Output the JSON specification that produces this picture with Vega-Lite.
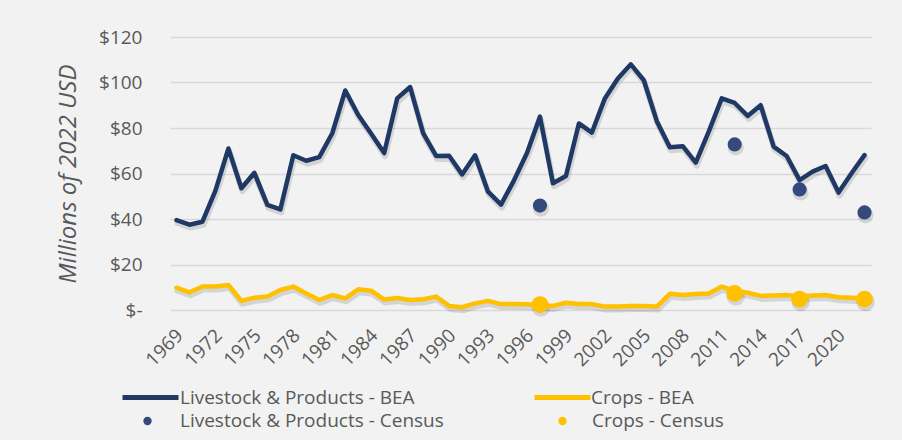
{
  "$schema": "https://vega.github.io/schema/vega-lite/v6.json",
  "autosize": "none",
  "width": 701,
  "height": 273,
  "padding": {"left": 170, "top": 37, "right": 31, "bottom": 130},
  "background": "#f2f2f2",
  "config": {
    "view": {"stroke": null},
    "font": "Open Sans",
    "axis": {"labelFont": "Open Sans", "labelColor": "#595959", "titleColor": "#595959"},
    "legend": {"labelFont": "Open Sans", "labelFontSize": 19, "labelColor": "#595959", "padding": 0, "title": null, "labelLimit": 500}
  },
  "datasets": {
    "bea": [
      {"year": 1969, "livestock": 39.5, "crops": 9.8},
      {"year": 1970, "livestock": 37.5, "crops": 7.8},
      {"year": 1971, "livestock": 38.8, "crops": 10.3},
      {"year": 1972, "livestock": 52.5, "crops": 10.3},
      {"year": 1973, "livestock": 71, "crops": 11},
      {"year": 1974, "livestock": 53.5, "crops": 4},
      {"year": 1975, "livestock": 60.3, "crops": 5.4},
      {"year": 1976, "livestock": 46.2, "crops": 5.9},
      {"year": 1977, "livestock": 44.2, "crops": 8.8},
      {"year": 1978, "livestock": 68, "crops": 10.3},
      {"year": 1979, "livestock": 65.6, "crops": 7.3},
      {"year": 1980, "livestock": 67.2, "crops": 4.4},
      {"year": 1981, "livestock": 77.7, "crops": 6.6},
      {"year": 1982, "livestock": 96.5, "crops": 5.1},
      {"year": 1983, "livestock": 85.7, "crops": 9.1},
      {"year": 1984, "livestock": 77.5, "crops": 8.5},
      {"year": 1985, "livestock": 69, "crops": 4.6},
      {"year": 1986, "livestock": 93, "crops": 5.3},
      {"year": 1987, "livestock": 98, "crops": 4.4},
      {"year": 1988, "livestock": 77.7, "crops": 4.7},
      {"year": 1989, "livestock": 67.7, "crops": 5.9},
      {"year": 1990, "livestock": 67.8, "crops": 1.8},
      {"year": 1991, "livestock": 59.6, "crops": 1.2},
      {"year": 1992, "livestock": 68, "crops": 2.9},
      {"year": 1993, "livestock": 52, "crops": 4},
      {"year": 1994, "livestock": 46.3, "crops": 2.6},
      {"year": 1995, "livestock": 57, "crops": 2.6},
      {"year": 1996, "livestock": 69, "crops": 2.5},
      {"year": 1997, "livestock": 85, "crops": 2.2},
      {"year": 1998, "livestock": 55.7, "crops": 1.8},
      {"year": 1999, "livestock": 58.9, "crops": 3.2},
      {"year": 2000, "livestock": 82, "crops": 2.6},
      {"year": 2001, "livestock": 78, "crops": 2.6},
      {"year": 2002, "livestock": 93, "crops": 1.5},
      {"year": 2003, "livestock": 101.8, "crops": 1.5},
      {"year": 2004, "livestock": 108, "crops": 1.8},
      {"year": 2005, "livestock": 101, "crops": 1.8},
      {"year": 2006, "livestock": 83, "crops": 1.5},
      {"year": 2007, "livestock": 71.5, "crops": 7.1},
      {"year": 2008, "livestock": 72, "crops": 6.6},
      {"year": 2009, "livestock": 64.8, "crops": 7},
      {"year": 2010, "livestock": 78.4, "crops": 7.3},
      {"year": 2011, "livestock": 93, "crops": 10.3},
      {"year": 2012, "livestock": 91, "crops": 8.5},
      {"year": 2013, "livestock": 85.3, "crops": 7.6},
      {"year": 2014, "livestock": 90, "crops": 6.2},
      {"year": 2015, "livestock": 71.8, "crops": 6.4},
      {"year": 2016, "livestock": 67.7, "crops": 6.6},
      {"year": 2017, "livestock": 57.1, "crops": 5.9},
      {"year": 2018, "livestock": 60.8, "crops": 6.4},
      {"year": 2019, "livestock": 63.3, "crops": 6.6},
      {"year": 2020, "livestock": 51.6, "crops": 5.6},
      {"year": 2021, "livestock": 60.1, "crops": 5.4},
      {"year": 2022, "livestock": 68.1, "crops": 5.1}
    ],
    "census": [
      {"year": 1997, "livestock": 45.9, "crops": 2.4},
      {"year": 2012, "livestock": 72.8, "crops": 7.3},
      {"year": 2017, "livestock": 53, "crops": 4.8},
      {"year": 2022, "livestock": 42.9, "crops": 4.8}
    ]
  },
  "encoding": {
    "x": {
      "field": "year", "type": "quantitative",
      "scale": {"domain": [1968.5, 2022.5], "nice": false, "zero": false},
      "axis": {
        "title": null, "grid": false, "ticks": false, "domain": false,
        "values": [1969, 1972, 1975, 1978, 1981, 1984, 1987, 1990, 1993, 1996, 1999, 2002, 2005, 2008, 2011, 2014, 2017, 2020],
        "format": "d", "labelAngle": -45, "labelAlign": "right", "labelBaseline": "middle",
        "labelFontSize": 19, "labelPadding": 22, "labelOffset": 3, "labelOverlap": false, "labelFlush": false
      }
    }
  },
  "layer": [
    {
      "data": {"name": "bea"},
      "mark": {"type": "line", "color": "#000000", "opacity": 0.12, "strokeWidth": 6, "yOffset": 3, "xOffset": 1, "strokeJoin": "round", "strokeCap": "round"},
      "encoding": {
        "y": {
          "field": "livestock", "type": "quantitative",
          "scale": {"domain": [0, 120], "nice": false},
          "axis": {
            "values": [0, 20, 40, 60, 80, 100, 120],
            "labelExpr": "datum.value == 0 ? '$-\u00a0\u00a0' : '$' + datum.value",
            "labelFontSize": 19, "labelPadding": 28,
            "grid": true, "gridColor": "#d9d9d9", "gridWidth": 1.5,
            "domain": false, "ticks": false,
            "title": "Millions of 2022 USD", "titleFont": "Open Sans", "titleFontStyle": "italic", "titleFontWeight": "normal",
            "titleFontSize": 24, "titleX": -102, "titleY": 136.5, "titleAngle": -90, "titleBaseline": "middle", "titleAlign": "center"
          }
        }
      }
    },
    {
      "data": {"name": "bea"},
      "mark": {"type": "line", "color": "#000000", "opacity": 0.12, "strokeWidth": 6, "yOffset": 3, "xOffset": 1, "strokeJoin": "round", "strokeCap": "round"},
      "encoding": {"y": {"field": "crops", "type": "quantitative"}}
    },
    {
      "data": {"name": "census"},
      "mark": {"type": "circle", "color": "#000000", "opacity": 0.12, "size": 260, "yOffset": 3, "xOffset": 1},
      "encoding": {"y": {"field": "livestock", "type": "quantitative"}}
    },
    {
      "data": {"name": "census"},
      "mark": {"type": "circle", "color": "#000000", "opacity": 0.12, "size": 340, "yOffset": 3, "xOffset": 1},
      "encoding": {"y": {"field": "crops", "type": "quantitative"}}
    },
    {
      "data": {"name": "bea"},
      "mark": {"type": "line", "strokeWidth": 4.5, "strokeJoin": "round", "strokeCap": "round"},
      "encoding": {
        "y": {"field": "livestock", "type": "quantitative"},
        "stroke": {
          "datum": "Livestock & Products - BEA",
          "scale": {"domain": ["Livestock & Products - BEA"], "range": ["#1f3864"]},
          "legend": {"orient": "none", "legendX": -50, "legendY": 330, "symbolType": "stroke", "symbolSize": 3136, "symbolStrokeWidth": 5, "labelOffset": -1}
        }
      }
    },
    {
      "data": {"name": "bea"},
      "mark": {"type": "line", "strokeWidth": 4.5, "strokeJoin": "round", "strokeCap": "round"},
      "encoding": {
        "y": {"field": "crops", "type": "quantitative"},
        "stroke": {
          "datum": "Crops - BEA",
          "scale": {"domain": ["Crops - BEA"], "range": ["#ffc000"]},
          "legend": {"orient": "none", "legendX": 362, "legendY": 330, "symbolType": "stroke", "symbolSize": 3136, "symbolStrokeWidth": 5, "labelOffset": -2}
        }
      }
    },
    {
      "data": {"name": "census"},
      "mark": {"type": "circle", "size": 200, "opacity": 1},
      "encoding": {
        "y": {"field": "livestock", "type": "quantitative"},
        "fill": {
          "datum": "Livestock & Products - Census",
          "scale": {"domain": ["Livestock & Products - Census"], "range": ["#344a7c"]},
          "legend": {"orient": "none", "legendX": -32, "legendY": 374.5, "symbolType": "circle", "symbolSize": 70, "symbolStrokeWidth": 0, "symbolOpacity": 1, "labelOffset": 23}
        }
      }
    },
    {
      "data": {"name": "census"},
      "mark": {"type": "circle", "size": 280, "opacity": 1},
      "encoding": {
        "y": {"field": "crops", "type": "quantitative"},
        "fill": {
          "datum": "Crops - Census",
          "scale": {"domain": ["Crops - Census"], "range": ["#ffc000"]},
          "legend": {"orient": "none", "legendX": 383, "legendY": 374.5, "symbolType": "circle", "symbolSize": 70, "symbolStrokeWidth": 0, "symbolOpacity": 1, "labelOffset": 20}
        }
      }
    }
  ],
  "resolve": {"scale": {"stroke": "independent", "fill": "independent"}}
}
